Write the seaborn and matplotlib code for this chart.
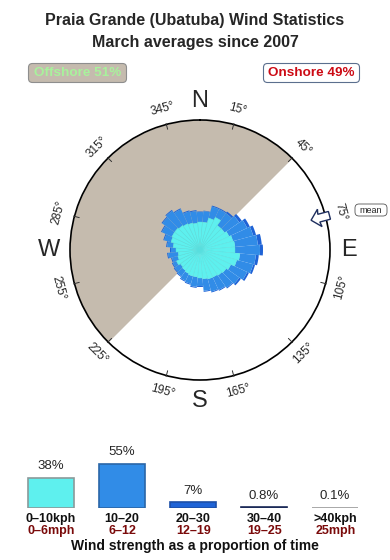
import numpy as np
import matplotlib
matplotlib.use("Agg")
import matplotlib.pyplot as plt
import seaborn as sns
from matplotlib.patches import FancyBboxPatch, Polygon

# ---------------- data ----------------
title_lines = ["Praia Grande (Ubatuba) Wind Statistics", "March averages since 2007"]
offshore_pct = 51
onshore_pct = 49
mean_dir = 75  # degrees

directions = list(range(0, 360, 10))
# radial extent of each speed band per direction (rose units, circle = 130)
band_0_10 = [28, 28, 33, 36, 30, 30, 32, 34, 35, 35, 40, 38, 34, 32, 31, 30, 30, 29,
             28, 27, 27, 26, 25, 24, 26, 23, 22, 24, 27, 30, 31, 31, 30, 29, 28, 27]
band_10_20 = [10, 11, 12, 9, 15, 18, 20, 21, 23, 25, 16, 17, 18, 16, 15, 14, 13, 12,
              8, 10, 8, 8, 7, 7, 4, 6, 10, 5, 6, 7, 11, 15, 18, 16, 12, 12]
band_20_30 = [0.5, 0.5, 1, 1, 2, 3, 3, 3, 4, 3, 3, 2, 2, 2, 1, 1, 1, 1,
              1, 1, 1, 1, 1, 1, 1, 1, 1, 1, 1, 1, 1, 1, 1, 1, 1, 1]

speed_kph = ["0–10kph", "10–20", "20–30", "30–40", ">40kph"]
speed_mph = ["0–6mph", "6–12", "12–19", "19–25", "25mph"]
speed_pct = [38, 55, 7, 0.8, 0.1]
speed_pct_labels = ["38%", "55%", "7%", "0.8%", "0.1%"]
tick_bearings = [15, 45, 75, 105, 135, 165, 195, 225, 255, 285, 315, 345]

# ---------------- style ----------------
sns.set_theme(style="white")
plt.rcParams["font.family"] = ["Liberation Sans", "DejaVu Sans"]

c_cyan = "#5EF0EE"
c_blue = "#318CE7"
c_dblue = "#1F63D6"
c_navy = "#1B2A58"
c_grey = "#9A9A9A"
c_tan = "#C5BBAE"

W, H = 390, 560
fig = plt.figure(figsize=(W / 100, H / 100), dpi=100)
fig.patch.set_facecolor("white")

CX, CY, R = 200, 250, 130

# ---------------- polar rose ----------------
axp = fig.add_axes([(CX - R) / W, (H - CY - R) / H, 2 * R / W, 2 * R / H], projection="polar")
axp.set_theta_zero_location("N")
axp.set_theta_direction(-1)
axp.set_ylim(0, R)
axp.grid(False)
axp.set_xticks([])
axp.set_yticks([])
axp.patch.set_alpha(0)
axp.spines["polar"].set_color("black")
axp.spines["polar"].set_linewidth(1.2)

th_w = np.deg2rad(np.linspace(225, 405, 300))
axp.fill_between(th_w, 0, R, color=c_tan, lw=0, zorder=0)

theta = np.deg2rad(directions)
wdt = np.deg2rad(10)
b1 = np.array(band_0_10, dtype=float)
b2 = np.array(band_10_20, dtype=float)
b3 = np.array(band_20_30, dtype=float)
axp.bar(theta, b3, width=wdt, bottom=b1 + b2, color=c_dblue, lw=0, zorder=2)
axp.bar(theta, b2, width=wdt, bottom=b1, color=c_blue, lw=0, zorder=2)
axp.bar(theta, b1, width=wdt, bottom=0, color=c_cyan, edgecolor="#58DEDE", lw=0.3, zorder=3)

# ---------------- overlay (pixel coordinates) ----------------
ax0 = fig.add_axes([0, 0, 1, 1], zorder=5)
ax0.set_xlim(0, W)
ax0.set_ylim(H, 0)
ax0.axis("off")
ax0.patch.set_alpha(0)

ax0.text(195, 20, title_lines[0], ha="center", va="center", fontsize=11.5, fontweight="bold")
ax0.text(195, 42, title_lines[1], ha="center", va="center", fontsize=11.5, fontweight="bold")

# offshore / onshore boxes
ax0.add_patch(FancyBboxPatch((30, 65), 95, 16, boxstyle="round,pad=1.5,rounding_size=4",
                             fc=c_tan, ec="#8E8E8E", lw=0.8))
ax0.text(77.5, 73.5, f"Offshore {offshore_pct}%", ha="center", va="center",
         fontsize=9.7, fontweight="bold", color="#A8F29C")
ax0.add_patch(FancyBboxPatch((265, 65), 93, 16, boxstyle="round,pad=1.5,rounding_size=4",
                             fc="white", ec="#5B6F8E", lw=0.8))
ax0.text(311, 73.5, f"Onshore {onshore_pct}%", ha="center", va="center",
         fontsize=9.7, fontweight="bold", color="#CC0A14")

# cardinal letters
for lab, (x, y) in {"N": (200, 101), "S": (200, 401), "W": (49, 250), "E": (349, 250)}.items():
    ax0.text(x, y, lab, ha="center", va="center", fontsize=17)

# degree ticks and labels
for b in tick_bearings:
    s, c = np.sin(np.deg2rad(b)), np.cos(np.deg2rad(b))
    ax0.plot([CX + 125 * s, CX + 131 * s], [CY - 125 * c, CY - 131 * c], color="#333333", lw=0.7)
    rot = -b if (b < 90 or b > 270) else 180 - b
    ax0.text(CX + 146 * s, CY - 146 * c, f"{b}°", ha="center", va="center",
             rotation=rot, rotation_mode="anchor", fontsize=8.5)

# mean arrow (hollow, pointing to the centre)
ms, mc = np.sin(np.deg2rad(mean_dir)), np.cos(np.deg2rad(mean_dir))
u = np.array([ms, -mc])       # outward direction in pixel coords
v = np.array([mc, ms])        # perpendicular
cen = np.array([CX, CY])
pts = [cen + 115 * u,
       cen + 124 * u + 9 * v,
       cen + 123 * u + 4 * v,
       cen + 134 * u + 4 * v,
       cen + 134 * u - 4 * v,
       cen + 123 * u - 4 * v,
       cen + 124 * u - 9 * v]
ax0.add_patch(Polygon(pts, closed=True, fc="white", ec="#1E2E5E", lw=1.0, zorder=6))
ax0.add_patch(FancyBboxPatch((356, 205), 30, 10, boxstyle="round,pad=1,rounding_size=4",
                             fc="white", ec="#555555", lw=0.6))
ax0.text(371, 210.3, "mean", ha="center", va="center", fontsize=6.5)

# ---------------- speed bars ----------------
ax2 = fig.add_axes([15.5 / W, (H - 508) / H, 355 / W, 56 / H])
ax2.patch.set_alpha(0)
bar_colors = [c_cyan, c_blue, c_dblue, c_navy, c_grey]
edge_colors = ["#8A9A9A", "#2A66A8", "#1C4FA8", c_navy, c_grey]
sns.barplot(x=speed_kph, y=speed_pct, hue=speed_kph, palette=bar_colors, legend=False,
            width=0.65, ax=ax2, saturation=1)
for p, ec in zip(ax2.patches, edge_colors):
    p.set_edgecolor(ec)
    p.set_linewidth(1.2)
ax2.set_ylim(0, 70)
ax2.set_xlim(-0.5, 4.5)
ax2.axis("off")
for i, lab in enumerate(speed_pct_labels):
    ax2.annotate(lab, (i, speed_pct[i]), xytext=(0, 4), textcoords="offset points",
                 ha="center", va="bottom", fontsize=9.5)

centers = [51, 122, 193.5, 264.5, 335.5]
for i, x in enumerate(centers):
    ax0.text(x, 519, speed_kph[i], ha="center", va="center", fontsize=9, fontweight="bold",
             color="#111111")
    ax0.text(x, 531, speed_mph[i], ha="center", va="center", fontsize=9, fontweight="bold",
             color="#7A0A0A")
ax0.text(195, 546, "Wind strength as a proportion of time", ha="center", va="center",
         fontsize=10, fontweight="bold", color="#111111")

fig.savefig("out.png", dpi=100)
